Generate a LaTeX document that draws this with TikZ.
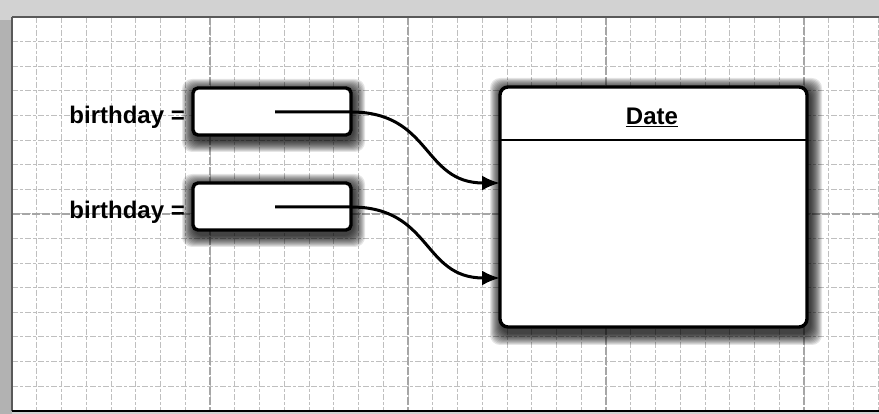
\documentclass[tikz,border=0pt]{standalone}
\usepackage{fontspec}
\setmainfont{Liberation Sans}
\usetikzlibrary{arrows.meta}
\tikzset{
  minorline/.style={gray!50, line width=0.8pt, dash pattern=on 6pt off 2pt on 3pt off 2pt},
  majorline/.style={gray!70, line width=1.1pt, dash pattern=on 8pt off 2pt},
  varbox/.style={draw=black, fill=white, line width=3.4pt, rounded corners=5pt,
    minimum width=158pt, minimum height=47pt, inner sep=0pt},
  objbox/.style={draw=black, fill=white, line width=3.4pt, rounded corners=8pt,
    minimum width=307pt, minimum height=240pt, inner sep=0pt},
  lbl/.style={font=\bfseries\fontsize{24}{24}\selectfont, anchor=east, inner sep=0pt},
  ptr/.style={line width=3pt, -{Latex[length=18pt,width=15pt]}},
  shadowlayer/.style={fill=black, opacity=0.1, rounded corners=10pt},
}
\begin{document}
\begin{tikzpicture}[x=1pt,y=-1pt]
\useasboundingbox (0,0) rectangle (879,414);
% scanned page surround
\fill[gray!35] (0,0) rectangle (879,414);
\fill[gray!60] (0,20) rectangle (12,414);
\fill[white] (12,17) rectangle (879,411);
% grid
\foreach \k in {0,...,35} {
  \pgfmathsetmacro{\gx}{12+24.75*\k}
  \draw[minorline] (\gx,17) -- (\gx,411);
}
\foreach \k in {0,...,16} {
  \pgfmathsetmacro{\gy}{17+24.6*\k}
  \draw[minorline] (12,\gy) -- (879,\gy);
}
\foreach \gx in {210,408,606,804} \draw[majorline] (\gx,17) -- (\gx,411);
\draw[majorline] (12,214) -- (879,214);
\draw[gray!70!black, line width=2pt] (12,17) -- (879,17);
\draw[gray!70!black, line width=2pt] (12,17) -- (12,411);
\draw[black, line width=2.5pt] (12,411) -- (879,411);
% shadows
\foreach \i in {1,...,12} {
  \fill[shadowlayer] (193-\i+1,88-\i+3) rectangle (351+\i+2,135+\i+5);
  \fill[shadowlayer] (193-\i+1,183-\i+3) rectangle (351+\i+2,230+\i+5);
  \fill[shadowlayer] (500-\i+2,87-\i+3) rectangle (807+\i+3,327+\i+6);
}
% nodes
\node[varbox] (v1) at (272,111.5) {};
\node[varbox] (v2) at (272,206.5) {};
\node[objbox] (date) at (653.5,207) {};
\node[lbl] (l1) at (185,117) {birthday =};
\node[lbl] (l2) at (185,212) {birthday =};
\node[font=\bfseries\fontsize{24}{24}\selectfont, inner sep=0pt] (dt) at (652,117) {\underline{Date}};
\coordinate (hl) at (500,140);
\coordinate (hr) at (807,140);
\draw[line width=2.6pt] (hl) -- (hr);
% pointers
\coordinate (s1) at (275,112);
\coordinate (e1) at (351,112);
\coordinate (t1) at (500,183);
\coordinate (s2) at (275,207);
\coordinate (e2) at (351,207);
\coordinate (t2) at (500,278);
\draw[ptr] (s1) -- (e1) .. controls (432,112) and (422,183) .. (t1);
\draw[ptr] (s2) -- (e2) .. controls (432,207) and (422,278) .. (t2);
\end{tikzpicture}
\end{document}
